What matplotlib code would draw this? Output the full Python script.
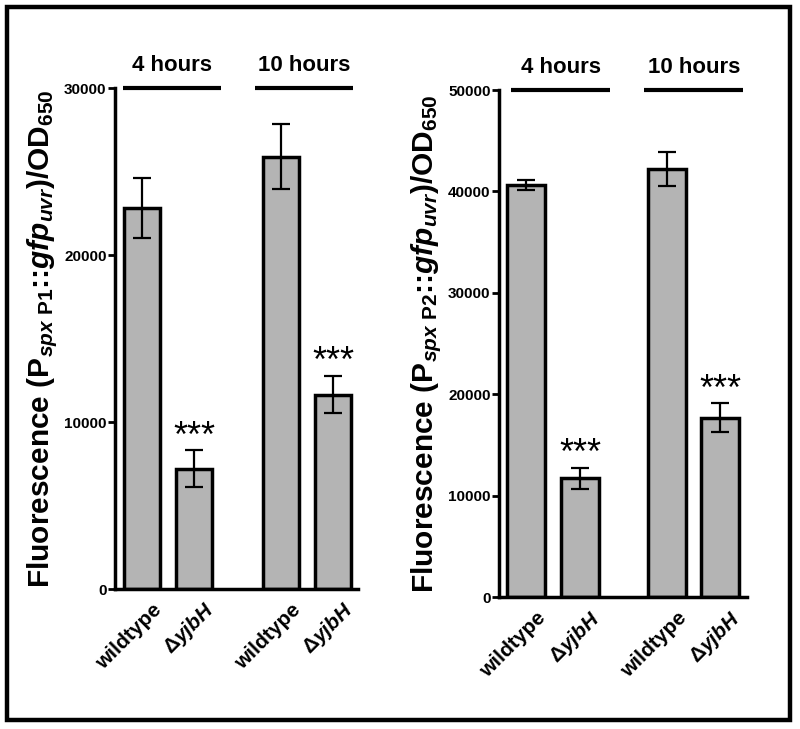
import numpy as np
import matplotlib
matplotlib.use("Agg")
import matplotlib.pyplot as plt
from matplotlib.patches import Rectangle

plt.rcParams['font.family'] = ['Liberation Sans', 'DejaVu Sans']
plt.rcParams['font.weight'] = 'bold'
plt.rcParams['mathtext.fontset'] = 'custom'
plt.rcParams['mathtext.rm'] = 'Liberation Sans:bold'
plt.rcParams['mathtext.it'] = 'Liberation Sans:italic:bold'
plt.rcParams['mathtext.bf'] = 'Liberation Sans:bold'
plt.rcParams['mathtext.sf'] = 'Liberation Sans'

# data
strains = ['wildtype', r'$\mathsf{\Delta}\mathit{yjbH}$', 'wildtype', r'$\mathsf{\Delta}\mathit{yjbH}$']
groups = ['4 hours', '10 hours']
signif = ['', '***', '', '***']

p1_mean = [22800, 7200, 25900, 11650]
p1_err = [1800, 1100, 1950, 1100]
p2_mean = [40650, 11700, 42200, 17700]
p2_err = [500, 1050, 1700, 1400]

p1_ticks = [0, 10000, 20000, 30000]
p2_ticks = [0, 10000, 20000, 30000, 40000, 50000]

ylab1 = r'Fluorescence (P$_{\mathit{spx}\ \mathrm{P1}}$::$\mathit{gfp}_{\mathit{uvr}}$)/OD$_{650}$'
ylab2 = r'Fluorescence (P$_{\mathit{spx}\ \mathrm{P2}}$::$\mathit{gfp}_{\mathit{uvr}}$)/OD$_{650}$'


def panel(ax, pos, mean, err, ticks, ylab, xlim, spans):
    ax.bar(pos, mean, width=0.7, color='#b4b4b4', edgecolor='black', linewidth=2.5, zorder=2)
    ax.errorbar(pos, mean, yerr=err, fmt='none', ecolor='black', elinewidth=1.6,
                capsize=6.5, capthick=1.6, zorder=3)
    top = ticks[-1]
    ax.set_ylim(0, top)
    ax.set_xlim(*xlim)
    ax.set_yticks(ticks)
    ax.set_yticklabels([str(t) for t in ticks], fontsize=11, fontweight='bold')
    ax.set_xticks(pos)
    ax.set_xticklabels([])
    ax.tick_params(axis='x', length=0)
    ax.tick_params(axis='y', length=5, width=2, pad=1)
    # rotated strain labels, nudged like the original
    for p, lab in zip(pos, strains):
        ax.annotate(lab, xy=(p, 0), xycoords=('data', 'axes fraction'),
                    xytext=(12, -13), textcoords='offset points',
                    rotation=45, ha='right', va='center', rotation_mode='anchor',
                    fontsize=15, fontweight='bold', annotation_clip=False)
    for s in ['top', 'right']:
        ax.spines[s].set_visible(False)
    for s in ['left', 'bottom']:
        ax.spines[s].set_linewidth(2.5)
    ax.set_ylabel(ylab, fontsize=21.5, fontweight='bold', labelpad=3)

    for i, s in enumerate(signif):
        if s:
            ax.annotate(s, xy=(pos[i], mean[i] + err[i]), xytext=(0, -3),
                        textcoords='offset points', ha='center', va='bottom',
                        fontsize=26, fontweight='normal')

    for g, (a, b) in zip(groups, spans):
        ax.plot([a, b], [top, top], color='black', lw=3, clip_on=False,
                solid_capstyle='butt')
        ax.annotate(g, xy=((a + b) / 2, top), xytext=(0, 9), textcoords='offset points',
                    ha='center', va='bottom', fontsize=16, fontweight='bold',
                    annotation_clip=False)


fig = plt.figure(figsize=(8, 7.29), dpi=100)

ax1 = fig.add_axes([0.14375, 0.192, 0.30375, 0.687])
pos1 = [0, 1, 2.67, 3.67]
panel(ax1, pos1, p1_mean, p1_err, p1_ticks, ylab1, (-0.52, 4.15),
      [(pos1[0] - 0.36, pos1[1] + 0.52), (pos1[2] - 0.5, pos1[3] + 0.38)])

ax2 = fig.add_axes([0.62375, 0.181, 0.31, 0.6955])
pos2 = [0, 1, 2.61, 3.59]
panel(ax2, pos2, p2_mean, p2_err, p2_ticks, ylab2, (-0.5, 4.09),
      [(pos2[0] - 0.28, pos2[1] + 0.56), (pos2[2] - 0.42, pos2[3] + 0.43)])

# outer frame
fig.patches.append(Rectangle((7 / 800, 1 - 720 / 729), 783 / 800, 713 / 729,
                             transform=fig.transFigure, fill=False,
                             edgecolor='black', linewidth=3.2))

fig.savefig('out.png', dpi=100)
